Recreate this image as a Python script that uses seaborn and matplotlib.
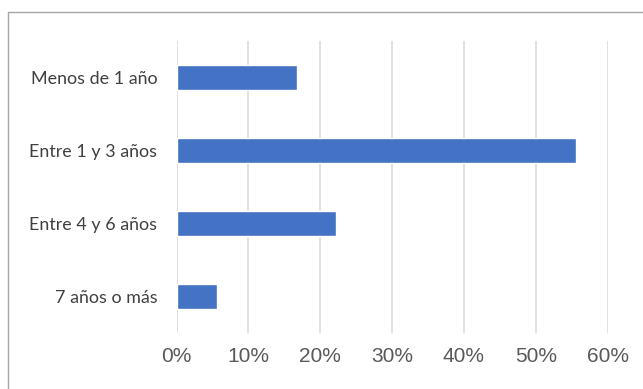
import matplotlib
matplotlib.use("Agg")
import matplotlib.pyplot as plt
import seaborn as sns
import pandas as pd
from matplotlib.lines import Line2D
from matplotlib.ticker import FuncFormatter

categories = ["Menos de 1 año", "Entre 1 y 3 años", "Entre 4 y 6 años", "7 años o más"]
values = [0.167, 0.556, 0.222, 0.056]
xticks = [0, 0.1, 0.2, 0.3, 0.4, 0.5, 0.6]

df = pd.DataFrame({"cat": categories, "val": values})

sns.set_theme(style="white")
fig = plt.figure(figsize=(6.43, 3.89), dpi=100)
ax = fig.add_axes([176.7 / 643, 1 - 333 / 389, 430.8 / 643, 292 / 389])

sns.barplot(data=df, x="val", y="cat", orient="h", color="#4472C4",
            saturation=1, width=0.35, ax=ax, zorder=3)

ax.set_xlim(0, 0.6)
ax.set_ylim(3.5, -0.5)
ax.set_xticks(xticks)
ax.xaxis.set_major_formatter(FuncFormatter(lambda v, p: f"{round(v*100):d}%"))
ax.grid(axis="x", color="#d9d9d9", linewidth=1.1, zorder=0)
ax.grid(axis="y", visible=False)
for s in ax.spines.values():
    s.set_visible(False)
ax.set_xlabel("")
ax.set_ylabel("")
ax.tick_params(axis="x", length=0, pad=10, labelsize=15, labelcolor="#595959")
ax.tick_params(axis="y", length=0, pad=14, labelsize=12.9, labelcolor="#404040")
for t in ax.get_xticklabels():
    t.set_fontfamily("Liberation Sans")
for t in ax.get_yticklabels():
    t.set_fontfamily("Lato")

# outer chart frame (partially cut off)
fig.add_artist(Line2D([8 / 643, 8 / 643], [-0.1, 1 - 12 / 389], transform=fig.transFigure,
                      color="#a6a6a6", linewidth=1.0))
fig.add_artist(Line2D([8 / 643, 1.1], [1 - 12 / 389, 1 - 12 / 389], transform=fig.transFigure,
                      color="#a6a6a6", linewidth=1.0))

fig.savefig("out.png", dpi=100)
